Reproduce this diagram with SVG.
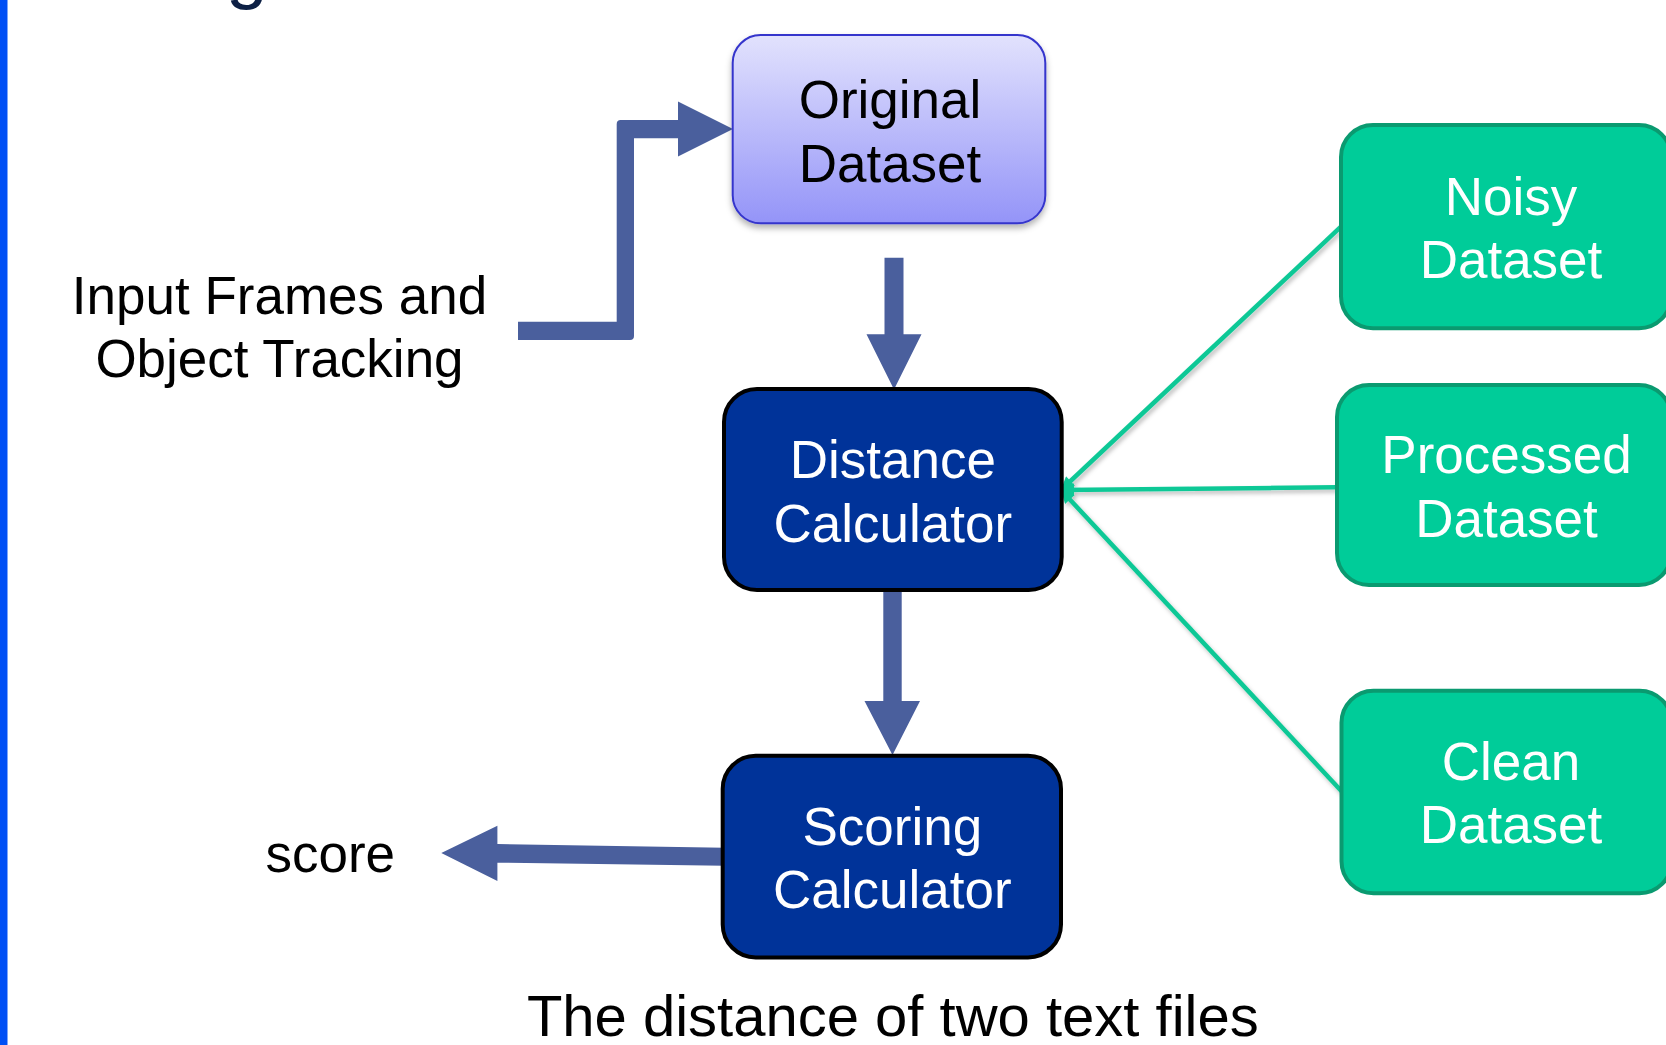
<svg xmlns="http://www.w3.org/2000/svg" width="1666" height="1045" viewBox="0 0 1666 1045">
  <style>
    .t { font-family: "Liberation Sans", Arial, sans-serif; font-size: 53px; text-anchor: middle; }
    .dark { fill: #000000; }
    .light { fill: #ffffff; }
    .navy { fill: #003399; stroke: #000000; stroke-width: 4; }
    .green { fill: #00cc99; stroke: #0a9a70; stroke-width: 4; }
    .thick { fill: #4a5f9d; }
    .thin { fill: none; stroke: #10c896; stroke-width: 4.5; marker-end: url(#tip); }
  </style>
  <defs>
    <linearGradient id="lav" x1="0" y1="0" x2="0" y2="1">
      <stop offset="0" stop-color="#e2e2fd"/>
      <stop offset="1" stop-color="#9494f8"/>
    </linearGradient>
    <filter id="sh" x="-10%" y="-10%" width="120%" height="130%">
      <feDropShadow dx="0" dy="4" stdDeviation="3" flood-color="#000" flood-opacity="0.3"/>
    </filter>
    <filter id="lsh" x="-10%" y="-10%" width="120%" height="120%">
      <feDropShadow dx="2" dy="3" stdDeviation="2" flood-color="#000" flood-opacity="0.25"/>
    </filter>
    <marker id="tip" viewBox="0 0 10 10" refX="10" refY="5" markerWidth="15" markerHeight="13" markerUnits="userSpaceOnUse" orient="auto">
      <path d="M0,0 L10,5 L0,10 Z" fill="#10c896"/>
    </marker>
  </defs>
  <rect width="1666" height="1045" fill="#ffffff"/>
  <rect x="0" y="0" width="7.5" height="1045" fill="#0050f5"/>
  <text x="226" y="-5" style="font-family: 'Liberation Sans', Arial, sans-serif; font-size: 75px; fill: #0d2045;">g</text>

  <g id="connectors">
    <path id="c-input-original" class="thick" d="M518,321.7 L616.7,321.7 L616.7,124 Q616.7,120 620.7,120 L678,120 L678,101.5 L733,129 L678,156.5 L678,138.3 L634,138.3 L634,336 Q634,340 630,340 L518,340 Z"/>
    <path id="c-original-distance" class="thick" d="M884.5,257.7 L903.5,257.7 L903.5,334.3 L921.5,334.3 L894,389.5 L866.5,334.3 L884.5,334.3 Z"/>
    <path id="c-distance-scoring" class="thick" d="M883.3,590 L901.7,590 L901.7,701 L920,701 L892.5,755 L864.5,701 L883.3,701 Z"/>
    <path id="c-scoring-score" class="thick" d="M724.4,847.7 L497.4,844 L497.4,825.7 L441.3,853 L497.4,881 L497.4,862.7 L724.4,865.7 Z"/>
    <g filter="url(#lsh)">
      <line id="c-noisy-distance" class="thin" x1="1341" y1="226.7" x2="1061" y2="490"/>
      <line id="c-processed-distance" class="thin" x1="1337" y1="487.3" x2="1061" y2="490"/>
      <line id="c-clean-distance" class="thin" x1="1342" y1="791.7" x2="1061" y2="490"/>
    </g>
  </g>

  <g id="original">
    <rect x="732.7" y="35" width="312.6" height="188.3" rx="28" ry="28" fill="url(#lav)" stroke="#3535cc" stroke-width="2" filter="url(#sh)"/>
    <text class="t dark" x="890" y="118.3">Original</text>
    <text class="t dark" x="890" y="181.7">Dataset</text>
  </g>

  <g id="distance">
    <rect class="navy" x="724" y="389" width="337.7" height="201" rx="33" ry="33"/>
    <text class="t light" x="892.8" y="478.3">Distance</text>
    <text class="t light" x="892.8" y="542.2">Calculator</text>
  </g>

  <g id="scoring">
    <rect class="navy" x="722.7" y="755.8" width="338.3" height="201.6" rx="33" ry="33"/>
    <text class="t light" x="892.3" y="844.5">Scoring</text>
    <text class="t light" x="892.3" y="907.7">Calculator</text>
  </g>

  <g id="noisy">
    <rect class="green" x="1341" y="125" width="330" height="203.3" rx="32" ry="32"/>
    <text class="t light" x="1511" y="215">Noisy</text>
    <text class="t light" x="1511" y="278.3">Dataset</text>
  </g>

  <g id="processed">
    <rect class="green" x="1337" y="385" width="334" height="200" rx="32" ry="32"/>
    <text class="t light" x="1506.5" y="473.3">Processed</text>
    <text class="t light" x="1506.5" y="537.3">Dataset</text>
  </g>

  <g id="clean">
    <rect class="green" x="1341.5" y="690.7" width="330" height="202.6" rx="32" ry="32"/>
    <text class="t light" x="1511" y="780">Clean</text>
    <text class="t light" x="1511" y="843.3">Dataset</text>
  </g>

  <g id="input">
    <text class="t dark" x="279.5" y="314">Input Frames and</text>
    <text class="t dark" x="279.5" y="376.7">Object Tracking</text>
  </g>

  <g id="score">
    <text class="t dark" x="330.3" y="871.7">score</text>
  </g>

  <g id="caption">
    <text class="t dark" x="892.8" y="1036" style="font-size: 58px;">The distance of two text files</text>
  </g>
</svg>
